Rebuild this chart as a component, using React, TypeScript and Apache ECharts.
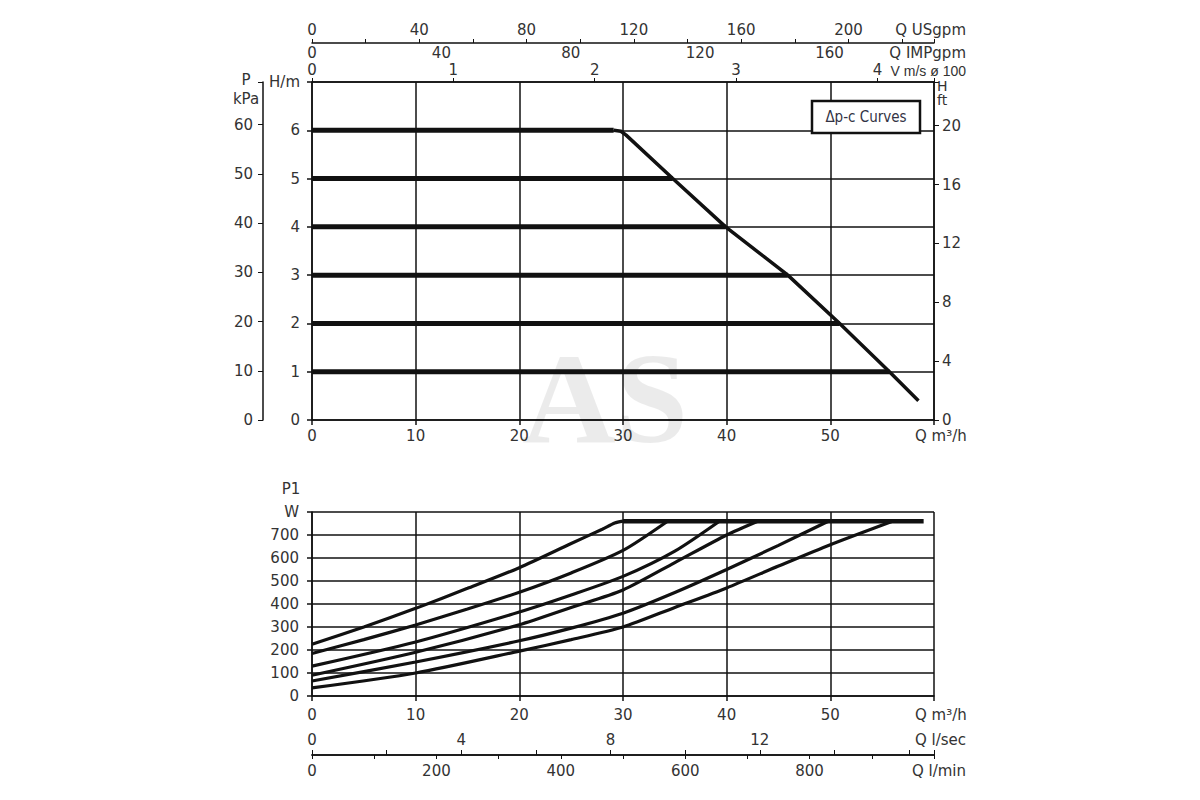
import React, { useEffect, useRef } from 'react';
import * as echarts from 'echarts';

// Δp-c curves (head in m, flow in m3/h)
const headLevels = [1, 2, 3, 4, 5, 6];
const headLineEnds = [55.7, 50.9, 45.9, 39.9, 34.8, 29.1];
const maxCurveQ = [29.1, 29.8, 30.3, 34.8, 39.9, 45.9, 50.9, 55.7, 58.5];
const maxCurveH = [6, 5.98, 5.9, 5, 4, 3, 2, 1, 0.4];

// P1 power curves (W) for each Δp-c setting
const p1Q6 = [0, 5, 10, 15, 20, 25, 28, 29.2, 30];
const p1W6 = [225, 300, 381, 468, 558, 663, 725, 752, 760];
const p1Q5 = [0, 5, 10, 15, 20, 25, 30, 34.3];
const p1W5 = [185, 245, 309, 378, 451, 535, 633, 760];
const p1Q4 = [0, 10, 20, 25, 30, 35, 39.3];
const p1W4 = [130, 235, 365, 439, 520, 630, 760];
const p1Q3 = [0, 10, 20, 25, 30, 35, 40, 43];
const p1W3 = [90, 190, 310, 385, 461, 580, 700, 760];
const p1Q2 = [0, 10, 20, 25, 30, 35, 40, 45, 49.8];
const p1W2 = [65, 148, 240, 295, 360, 450, 550, 655, 760];
const p1Q1 = [0, 10, 20, 25, 30, 35, 40, 45, 50, 56];
const p1W1 = [35, 100, 195, 245, 300, 385, 470, 565, 658, 760];
const p1MaxQ = [30, 59];
const p1MaxW = [760, 760];

// axis ranges
const qMax = 60;
const hMax = 7;
const kpaMax = hMax * 9.81;
const ftMax = hMax / 0.3048;
const velMax = 4.4;
const impMax = 192.3;
const usMax = 231.9;
const lsecMax = 16.667;
const lminMax = 1000;
const wMax = 800;

const FONT = 'DejaVu Sans';
const TXT = '#333';
const INK = '#111';

const zip = (xs: number[], ys: number[]) => xs.map((x, i) => [x, ys[i]]);
const every = (step: number, below = Infinity) => (v: number) =>
  Math.abs(v / step - Math.round(v / step)) < 1e-6 && v < below ? String(v) : '';

const lbl = (margin: number, extra: any = {}) => ({
  color: TXT,
  fontFamily: FONT,
  fontSize: 15,
  margin,
  ...extra
});
const line = { show: true, onZero: false, lineStyle: { color: INK, width: 1.5 } };
const split = { show: true, lineStyle: { color: INK, width: 1.5 } };

const App: React.FC = () => {
  const chartRef = useRef<HTMLDivElement>(null);

  useEffect(() => {
    const chart = echarts.init(chartRef.current!, null, { renderer: 'svg' });

    const text = (t: string, x: number, y: number, align = 'left', size = 15, family = FONT) => ({
      type: 'text',
      x,
      y,
      z: 20,
      style: { text: t, fill: TXT, fontFamily: family, fontSize: size, align, verticalAlign: 'middle' }
    });

    const headSeries = headLevels.map((h, i) => ({
      type: 'line',
      xAxisIndex: 0,
      yAxisIndex: 0,
      data: [[0, h], [headLineEnds[i], h]],
      showSymbol: false,
      lineStyle: { color: INK, width: 5 },
      z: 3
    }));

    const powerSets = [
      [p1Q6, p1W6],
      [p1Q5, p1W5],
      [p1Q4, p1W4],
      [p1Q3, p1W3],
      [p1Q2, p1W2],
      [p1Q1, p1W1]
    ];
    const powerSeries = powerSets.map(([qs, ws]) => ({
      type: 'line',
      xAxisIndex: 4,
      yAxisIndex: 3,
      data: zip(qs, ws),
      showSymbol: false,
      smooth: 0.25,
      lineStyle: { color: INK, width: 3.2 },
      z: 3
    }));

    const option = {
      animation: false,
      backgroundColor: '#fff',
      grid: [
        { left: 312, top: 82, width: 622, height: 338 },
        { left: 312, top: 512, width: 622, height: 184 }
      ],
      xAxis: [
        {
          gridIndex: 0, type: 'value', min: 0, max: qMax, interval: 10, position: 'bottom',
          axisLine: line, axisTick: { show: true, length: 5, lineStyle: { color: INK, width: 1.5 } },
          axisLabel: lbl(8, { formatter: (v: number) => (v === qMax ? '' : String(v)) }),
          splitLine: split
        },
        {
          gridIndex: 0, type: 'value', min: 0, max: velMax, interval: 1, position: 'top',
          axisLine: line, axisTick: { show: true, length: 4, lineStyle: { color: INK } },
          axisLabel: lbl(5, { formatter: every(1) }), splitLine: { show: false }
        },
        {
          gridIndex: 0, type: 'value', min: 0, max: impMax, interval: 40, position: 'top', offset: 22,
          axisLine: { show: false, onZero: false }, axisTick: { show: false },
          axisLabel: lbl(0, { formatter: every(40) }), splitLine: { show: false }
        },
        {
          gridIndex: 0, type: 'value', min: 0, max: usMax, interval: 20, position: 'top', offset: 39,
          axisLine: line, axisTick: { show: true, length: 4, lineStyle: { color: INK } },
          axisLabel: lbl(6, { formatter: every(40) }), splitLine: { show: false }
        },
        {
          gridIndex: 1, type: 'value', min: 0, max: qMax, interval: 10, position: 'bottom',
          axisLine: line, axisTick: { show: true, length: 5, lineStyle: { color: INK, width: 1.5 } },
          axisLabel: lbl(11, { formatter: (v: number) => (v === qMax ? '' : String(v)) }),
          splitLine: split
        },
        {
          gridIndex: 1, type: 'value', min: 0, max: lsecMax, interval: 2, position: 'bottom', offset: 59,
          axisLine: line, axisTick: { show: true, inside: true, length: 5, lineStyle: { color: INK } },
          axisLabel: lbl(8, { inside: true, formatter: every(4, 16) }), splitLine: { show: false }
        },
        {
          gridIndex: 1, type: 'value', min: 0, max: lminMax, interval: 100, position: 'bottom', offset: 59,
          axisLine: line, axisTick: { show: true, length: 4, lineStyle: { color: INK } },
          axisLabel: lbl(8, { formatter: every(200, lminMax) }),
          splitLine: { show: false }
        }
      ],
      yAxis: [
        {
          gridIndex: 0, type: 'value', min: 0, max: hMax, interval: 1, position: 'left',
          axisLine: line, axisTick: { show: true, length: 5, lineStyle: { color: INK, width: 1.5 } },
          axisLabel: lbl(12, { formatter: (v: number) => (v === hMax ? 'H/m' : String(v)) }),
          splitLine: split
        },
        {
          gridIndex: 0, type: 'value', min: 0, max: kpaMax, interval: 10, position: 'left', offset: 49,
          axisLine: line, axisTick: { show: true, length: 5, lineStyle: { color: INK } },
          axisLabel: lbl(10, { formatter: every(10) }), splitLine: { show: false }
        },
        {
          gridIndex: 0, type: 'value', min: 0, max: ftMax, interval: 4, position: 'right',
          axisLine: line, axisTick: { show: true, length: 5, lineStyle: { color: INK } },
          axisLabel: lbl(8, { formatter: every(4) }), splitLine: { show: false }
        },
        {
          gridIndex: 1, type: 'value', min: 0, max: wMax, interval: 100, position: 'left',
          axisLine: line, axisTick: { show: true, length: 5, lineStyle: { color: INK, width: 1.5 } },
          axisLabel: lbl(13, { formatter: (v: number) => (v === wMax ? 'W' : String(v)) }),
          splitLine: split
        }
      ],
      graphic: [
        {
          type: 'text', x: 605, y: 398, z: 1,
          style: {
            text: 'AS', fill: 'rgba(0,0,0,0.08)', fontFamily: 'Liberation Serif', fontWeight: 'bold',
            fontSize: 130, align: 'center', verticalAlign: 'middle'
          }
        },
        {
          type: 'rect', z: 20, shape: { x: 812, y: 101, width: 108, height: 32 },
          style: { fill: '#fff', stroke: INK, lineWidth: 2.5 }
        },
        {
          type: 'text', x: 866, y: 117, z: 21,
          style: {
            text: 'Δp-c Curves', fill: '#334', fontFamily: 'DejaVu Sans Condensed', fontSize: 15,
            align: 'center', verticalAlign: 'middle'
          }
        },
        text('Q USgpm', 966, 30, 'right'),
        text('Q IMPgpm', 966, 53, 'right'),
        text('V m/s ø 100', 966, 71, 'right', 14, 'Liberation Sans'),
        text('P', 246, 80, 'center'),
        text('kPa', 246, 99, 'center'),
        text('H', 937, 86, 'left', 14),
        text('ft', 937, 100, 'left', 14),
        text('Q m³/h', 915, 436, 'left'),
        text('P1', 291, 489, 'center'),
        text('Q m³/h', 915, 715, 'left'),
        text('Q l/sec', 966, 740, 'right'),
        text('Q l/min', 966, 771, 'right')
      ],
      series: [
        ...headSeries,
        {
          type: 'line',
          xAxisIndex: 0,
          yAxisIndex: 0,
          data: zip(maxCurveQ, maxCurveH),
          showSymbol: false,
          lineStyle: { color: INK, width: 3.5 },
          z: 4
        },
        ...powerSeries,
        {
          type: 'line',
          xAxisIndex: 4,
          yAxisIndex: 3,
          data: zip(p1MaxQ, p1MaxW),
          showSymbol: false,
          lineStyle: { color: INK, width: 4.5 },
          z: 4
        }
      ]
    };

    chart.setOption(option as any);

    const handleResize = () => chart.resize();
    window.addEventListener('resize', handleResize);

    return () => {
      chart.dispose();
      window.removeEventListener('resize', handleResize);
    };
  }, []);

  return (
    <div
      ref={chartRef}
      style={{ position: 'fixed', left: 0, top: 0, width: '1200px', height: '800px' }}
    />
  );
};

export default App;
